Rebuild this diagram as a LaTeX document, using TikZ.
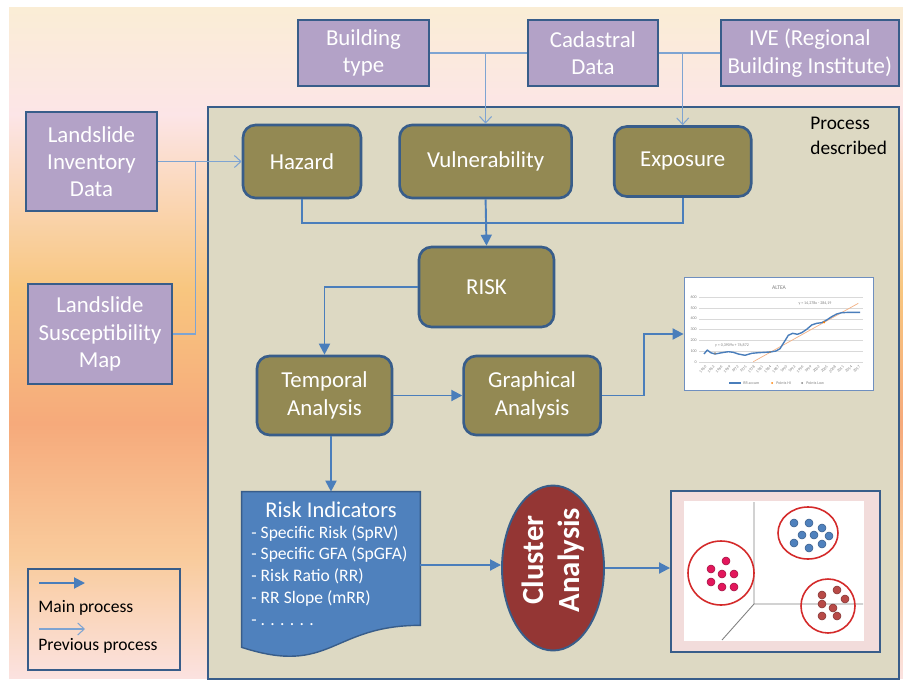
\documentclass[tikz,border=0pt]{standalone}
\usepackage{fontspec}
\setmainfont{Carlito}
\usetikzlibrary{positioning,calc,arrows.meta,shapes.geometric}

\definecolor{edgeblue}{HTML}{385D8A}
\definecolor{mainblue}{HTML}{4A7EBB}
\definecolor{prevblue}{HTML}{7EA4D2}
\definecolor{datapurple}{HTML}{B3A2C7}
\definecolor{stepolive}{HTML}{938953}
\definecolor{procgrey}{HTML}{DDD9C3}
\definecolor{indblue}{HTML}{4F81BD}
\definecolor{clusred}{HTML}{943634}
\definecolor{clpink}{HTML}{F2DCDB}
\definecolor{ringred}{HTML}{D42A2A}
\definecolor{dotpink}{HTML}{E3175C}
\definecolor{dotbrown}{HTML}{B84A47}
\definecolor{trendorange}{HTML}{F4B183}
\definecolor{chartframe}{HTML}{6F8FBF}
\definecolor{bgcream}{HTML}{FAEDD5}
\definecolor{bgrose}{HTML}{FCE5E7}
\definecolor{bgorange}{HTML}{F8C67F}
\definecolor{bgsalmon}{HTML}{F6AA7B}
\definecolor{bglight}{HTML}{F9CB9C}
\definecolor{bgpink}{HTML}{FBE2E0}

\pgfdeclareverticalshading{bgfade}{100bp}{color(0bp)=(bgpink); color(25bp)=(bgpink);
  color(34bp)=(bglight); color(44bp)=(bgsalmon); color(54bp)=(bgorange);
  color(67bp)=(bgrose); color(75bp)=(bgcream); color(100bp)=(bgcream)}

\tikzset{
  mainline/.style={draw=mainblue, line width=1.1pt},
  main/.style={mainline, -{Triangle[length=2.2mm,width=2.2mm]}},
  prevline/.style={draw=prevblue, line width=0.6pt},
  prev/.style={prevline, -{Straight Barb[length=1.3mm,width=2.4mm]}},
  databox/.style={draw=edgeblue, fill=datapurple, line width=1.1pt, text=white,
    align=center, inner sep=1pt, font=\fontsize{13}{15.5}\selectfont},
  stepbox/.style={draw=edgeblue, fill=stepolive, line width=1.5pt, rounded corners=0.25cm,
    text=white, align=center, font=\fontsize{13}{15.5}\selectfont},
  chtext/.style={text=gray, inner sep=0pt, font=\fontsize{2.3}{2.8}\selectfont},
  dot/.style={line width=0.3pt},
}

\begin{document}
\begin{tikzpicture}[x=0.02cm, y=-0.02cm] % one unit = one pixel, y downwards
  \useasboundingbox (0,0) rectangle (903,683);
  \shade[shading=bgfade] (9,7) rectangle (903,678);

  % the process box
  \node[draw=edgeblue, fill=procgrey, line width=1.1pt, minimum width=13.82cm,
    minimum height=11.44cm] (proc) at (553.5,393) {};
  \node[anchor=north west, align=left, inner sep=0pt,
    font=\fontsize{11}{14}\selectfont] (desc) at (810,117) {Process\\described};

  % data coming in
  \node[databox, minimum width=2.62cm, minimum height=1.32cm] (btype) at (363.5,53) {Building\\type};
  \node[databox, minimum width=2.6cm, minimum height=1.32cm, right=1.94cm of btype] (cadas) {Cadastral\\Data};
  \node[databox, minimum width=3.56cm, minimum height=1.32cm, right=1.22cm of cadas] (ive) {IVE (Regional\\Building Institute)};
  \node[databox, minimum width=2.62cm, minimum height=1.98cm] (inv) at (91.5,161.5) {Landslide\\Inventory\\Data};
  \node[databox, minimum width=2.88cm, minimum height=2cm] (susc) at (100,334) {Landslide\\Susceptibility\\Map};

  % steps
  \node[stepbox, minimum width=2.36cm, minimum height=1.46cm] (hazard) at (302,161.5) {Hazard};
  \node[stepbox, minimum width=3.44cm, minimum height=1.46cm, right=0.72cm of hazard] (vuln) {Vulnerability};
  \node[stepbox, minimum width=2.74cm, minimum height=1.4cm, right=0.8cm of vuln] (expo) {Exposure};
  \node[stepbox, minimum width=2.7cm, minimum height=1.6cm] (risk) at (486.5,287) {RISK};
  \node[stepbox, minimum width=2.7cm, minimum height=1.58cm] (temp) at (324.5,395.5) {Temporal\\Analysis};
  \node[stepbox, minimum width=2.74cm, minimum height=1.58cm, right=1.38cm of temp] (graph) {Graphical\\Analysis};

  % chart of ALTEA
  \node[fill=white, draw=chartframe, line width=0.5pt, minimum width=3.78cm,
    minimum height=2.26cm] (chart) at (778.5,334) {};
  \node[chtext, font=\fontsize{3.2}{4}\selectfont] at (779,288) {ALTEA};
  \foreach \v in {0,...,6} {
    \draw[black!15, line width=0.2pt] (699,{362-10.83*\v}) -- (863,{362-10.83*\v});
    \pgfmathtruncatemacro\lab{100*\v}
    \node[chtext, anchor=east] at (697,{362-10.83*\v}) {\lab};
  }
  \foreach \i [evaluate=\i as \yr using int(1960+3*\i)] in {0,...,19}
    \node[chtext, rotate=45, anchor=east] at ({706+8.1*\i},366) {\yr};
  \draw[trendorange, line width=0.4pt] (753.3,361.7) -- (858.3,303.3);
  \draw[mainblue, line width=0.8pt, line join=round] plot coordinates {(704,354) (707.3,350)
    (710.7,352.7) (715,354) (721.7,352.7) (728.3,351.7) (733.3,352.3) (738.3,354)
    (745,355.3) (751.7,353.3) (758.3,352.7) (765,352.3) (770,352) (776,351)
    (780,348.7) (785,340.7) (788.3,335.3) (792.7,333.3) (797.3,334.3) (801.7,332.7)
    (806.7,329.3) (811.7,325) (816.7,323.3) (821.7,322.7) (826.7,320) (831.7,316.7)
    (836.7,314) (841.7,312.7) (850,312.3) (860,312.3)};
  \fill[orange] (824,322.3) circle (1.2);
  \fill[gray] (770,352) circle (1.2) (715,353.3) circle (1.2);
  \node[chtext] at (732,345) {y = 0,3909x + 76,872};
  \node[chtext] at (815,303) {y = 14,278x - 284,19};
  \draw[mainblue, line width=0.6pt] (729,383) -- (741,383);
  \node[chtext, anchor=west] at (743,383) {RR accum};
  \fill[orange] (772,383) circle (1);
  \node[chtext, anchor=west] at (776,383) {Points HI};
  \fill[gray] (802,383) circle (1);
  \node[chtext, anchor=west] at (806,383) {Points Low};

  % risk indicators (document shape)
  \node[minimum width=3.56cm, minimum height=2.92cm] (ind) at (331,565) {};
  \path[fill=indblue, draw=edgeblue, line width=0.8pt] (ind.north west) -- (ind.north east)
    -- ($(ind.south east)+(0,-13)$) .. controls ($(ind.south)+(0,-13)$) and ($(ind.south)+(0,38)$)
    .. ($(ind.south west)+(0,9)$) -- cycle;
  \node[text=white, inner sep=0pt, anchor=base, font=\fontsize{12.8}{15}\selectfont]
    (indtitle) at (331,517) {Risk Indicators};
  \node[text=white, inner sep=0pt, anchor=north west, align=left,
    font=\fontsize{10}{12.4}\selectfont] (indlist) at (251,525)
    {- Specific Risk (SpRV)\\- Specific GFA (SpGFA)\\- Risk Ratio (RR)\\- RR Slope (mRR)\\- . . . . . .};

  % cluster analysis
  \node[ellipse, draw=edgeblue, fill=clusred, line width=1.1pt, inner sep=0pt,
    minimum width=2.04cm, minimum height=3.3cm] (clus) at (553,568) {};
  \node[rotate=90, text=white, align=center, font=\bfseries\fontsize{17.5}{20.5}\selectfont]
    (clustxt) at ($(clus.center)+(0,-8)$) {Cluster\\Analysis};

  \node[draw=edgeblue, fill=clpink, line width=1.1pt, minimum width=4.18cm,
    minimum height=3.22cm] (clbox) at (775.5,571.5) {};
  \node[fill=white, minimum width=3.6cm, minimum height=2.8cm] (clplot) at (774,571) {};
  \draw[gray, line width=0.5pt] (754,502) -- (754,604) -- (863,604) (754,604) -- (722,640);
  \draw[ringred, line width=0.9pt] (721,573) ellipse [x radius=33, y radius=32]
    (808,533) ellipse [x radius=30, y radius=26] (828,606) ellipse [x radius=27, y radius=27];
  \foreach \p in {(726,561),(711,569),(722,574),(734,574),(711,582),(722,587),(734,587)}
    \filldraw[dot, fill=dotpink, draw=dotpink!70!black] \p circle (4);
  \foreach \p in {(794,523),(809,523),(822,528),(802,535),(814,535),(829,536),(794,543),(809,548),(822,544)}
    \filldraw[dot, fill=indblue, draw=edgeblue] \p circle (4);
  \foreach \p in {(822,595),(837,590),(845,599),(822,604),(833,608),(822,616),(837,616)}
    \filldraw[dot, fill=dotbrown, draw=dotbrown!70!black] \p circle (4);

  % legend
  \node[draw=edgeblue, line width=1.1pt, minimum width=3.04cm, minimum height=2.02cm]
    (legend) at (104,619.5) {};
  \coordinate (lgmain) at (39,583);
  \coordinate (lgprev) at (39,629);
  \draw[main] (lgmain) -- ++(46,0);
  \draw[prev] (lgprev) -- ++(46,0);
  \node[anchor=base west, inner sep=0pt, font=\fontsize{10}{12}\selectfont] at (38,612) {Main process};
  \node[anchor=base west, inner sep=0pt, font=\fontsize{10}{12}\selectfont] at (38,650) {Previous process};

  % previous process
  \draw[prevline] (btype.east) -- (cadas.west);
  \draw[prev] (btype.east -| vuln.north) -- (vuln.north);
  \draw[prevline] (cadas.east) -- (ive.west);
  \draw[prev] (cadas.east -| expo.north) -- (expo.north);
  \coordinate (lsjoin) at ($(inv.east)!0.45!(hazard.west)$);
  \draw[prev] (inv.east) -- (hazard.west);
  \draw[prevline] (susc.east) -| (lsjoin);

  % main process
  \draw[mainline] (hazard.south) -- ++(0,24) -| (expo.south);
  \draw[main] (vuln.south) -- (risk.north);
  \draw[main] (risk.west) -| (temp.north);
  \draw[main] (temp.east) -- (graph.west);
  \draw[main] (graph.east) -- ++(42,0) |- (chart.west);
  \draw[main] (temp.south -| ind.north) -- (ind.north);
  \draw[main] (ind.east) -- (ind.east -| clus.west);
  \draw[main] (clus.east) -- (clus.east -| clbox.west);
\end{tikzpicture}
\end{document}
